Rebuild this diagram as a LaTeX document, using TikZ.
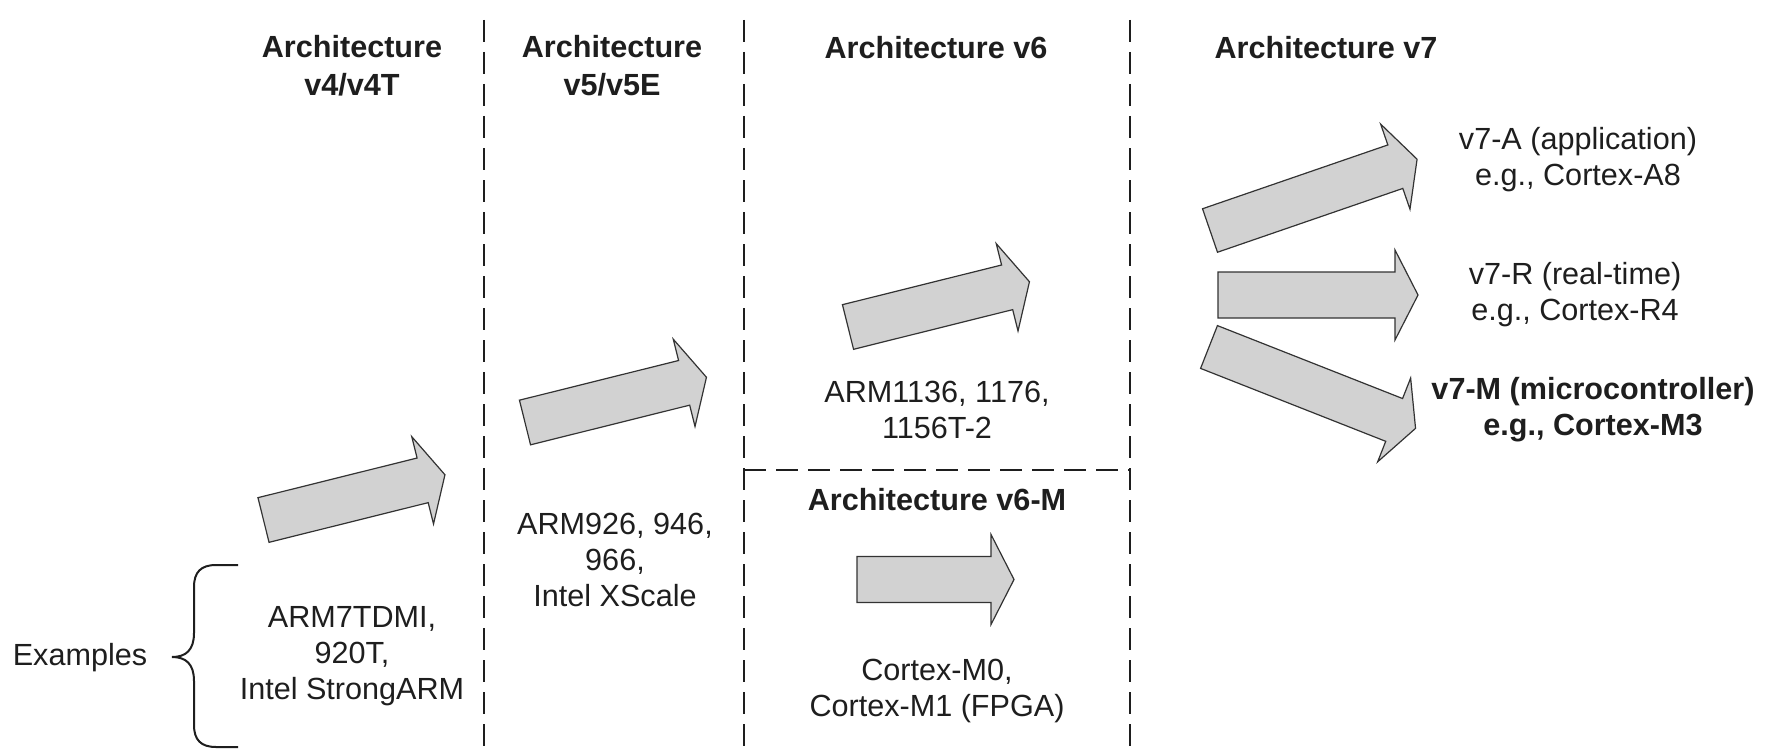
\documentclass[tikz,border=0pt]{standalone}
\usepackage{fontspec}
\setmainfont{Liberation Sans}
\definecolor{arrowfill}{HTML}{D2D2D2}
\definecolor{arrowline}{HTML}{333333}
\definecolor{txt}{HTML}{1E1E1E}
\newcommand\blockarrow[5]{%
  \begin{scope}[shift={(#2,#3)}, rotate=#4]
    \draw[barrow] (0,-23) -- (#5,-23) -- (#5,-45) -- ({#5+23},0) -- (#5,45) -- (#5,23) -- (0,23) -- cycle;
    \coordinate (#1) at ({(#5+23)/2},0);
  \end{scope}}
\begin{document}
\begin{tikzpicture}[x=0.5pt,y=-0.5pt,
  barrow/.style={fill=arrowfill, draw=arrowline, line width=0.6pt, line join=miter},
  divider/.style={draw=txt, line width=1pt, dash pattern=on 11pt off 5pt},
  lbl/.style={inner sep=0pt, align=center, text=txt, font=\fontsize{15.3}{18}\selectfont},
  ttl/.style={lbl, font=\fontsize{15.3}{19}\selectfont\bfseries},
  bracestyle/.style={draw=txt, line width=1pt}]
\useasboundingbox (0,0) rectangle (1777,749);
% dividers
\coordinate (d1t) at (484,20);  \coordinate (d1b) at (484,749);
\coordinate (d2t) at (744,20);  \coordinate (d2b) at (744,749);
\coordinate (d3t) at (1130,20); \coordinate (d3b) at (1130,749);
\coordinate (hl) at (744,470);  \coordinate (hr) at (1130,470);
\draw[divider] (d1t) -- (d1b);
\draw[divider] (d2t) -- (d2b);
\draw[divider] (d3t) -- (d3b);
\draw[divider] (hl) -- (hr);
% titles
\node[ttl] (t4) at (352,66) {Architecture\\v4/v4T};
\node[ttl] (t5) at (612,66) {Architecture\\v5/v5E};
\node[ttl] (t6) at (936,48) {Architecture v6};
\node[ttl] (t7) at (1326,48) {Architecture v7};
\node[ttl] (t6m) at (937,500) {Architecture v6-M};
% arrows
\blockarrow{a4}{263.5}{520}{14}{164}
\blockarrow{a5}{525}{422.5}{14}{164}
\blockarrow{a6}{848}{327}{14}{164}
\blockarrow{a6m}{857}{579.5}{0}{134}
\blockarrow{a7a}{1210}{230.5}{19}{196}
\blockarrow{a7r}{1218}{295}{0}{177}
\blockarrow{a7m}{1209}{347}{-21.5}{199}
% example texts
\node[lbl] (e4) at (352,656) {ARM7TDMI,\\920T,\\Intel StrongARM};
\node[lbl] (e5) at (615,560) {ARM926, 946,\\966,\\Intel XScale};
\node[lbl] (e6) at (937,410) {ARM1136, 1176,\\1156T-2};
\node[lbl] (e6m) at (937,691) {Cortex-M0,\\Cortex-M1 (FPGA)};
\node[lbl] (v7a) at (1578,160) {v7-A (application)\\e.g., Cortex-A8};
\node[lbl] (v7r) at (1575,295) {v7-R (real-time)\\e.g., Cortex-R4};
\node[ttl, font=\fontsize{15.3}{18}\selectfont\bfseries] (v7m) at (1593,410) {v7-M (microcontroller)\\e.g., Cortex-M3};
% examples brace
\node[lbl] (ex) at (80,658) {Examples};
\coordinate (bt) at (238,565);
\coordinate (bb) at (238,747);
\coordinate (bc) at (172,657);
\draw[bracestyle] (bt) -- (216,565) .. controls (201,565) and (194,572) .. (194,587) -- (194,633)
  .. controls (194,650) and (186,657) .. (bc)
  .. controls (186,657) and (194,664) .. (194,681) -- (194,725)
  .. controls (194,740) and (201,747) .. (216,747) -- (bb);
\end{tikzpicture}
\end{document}
